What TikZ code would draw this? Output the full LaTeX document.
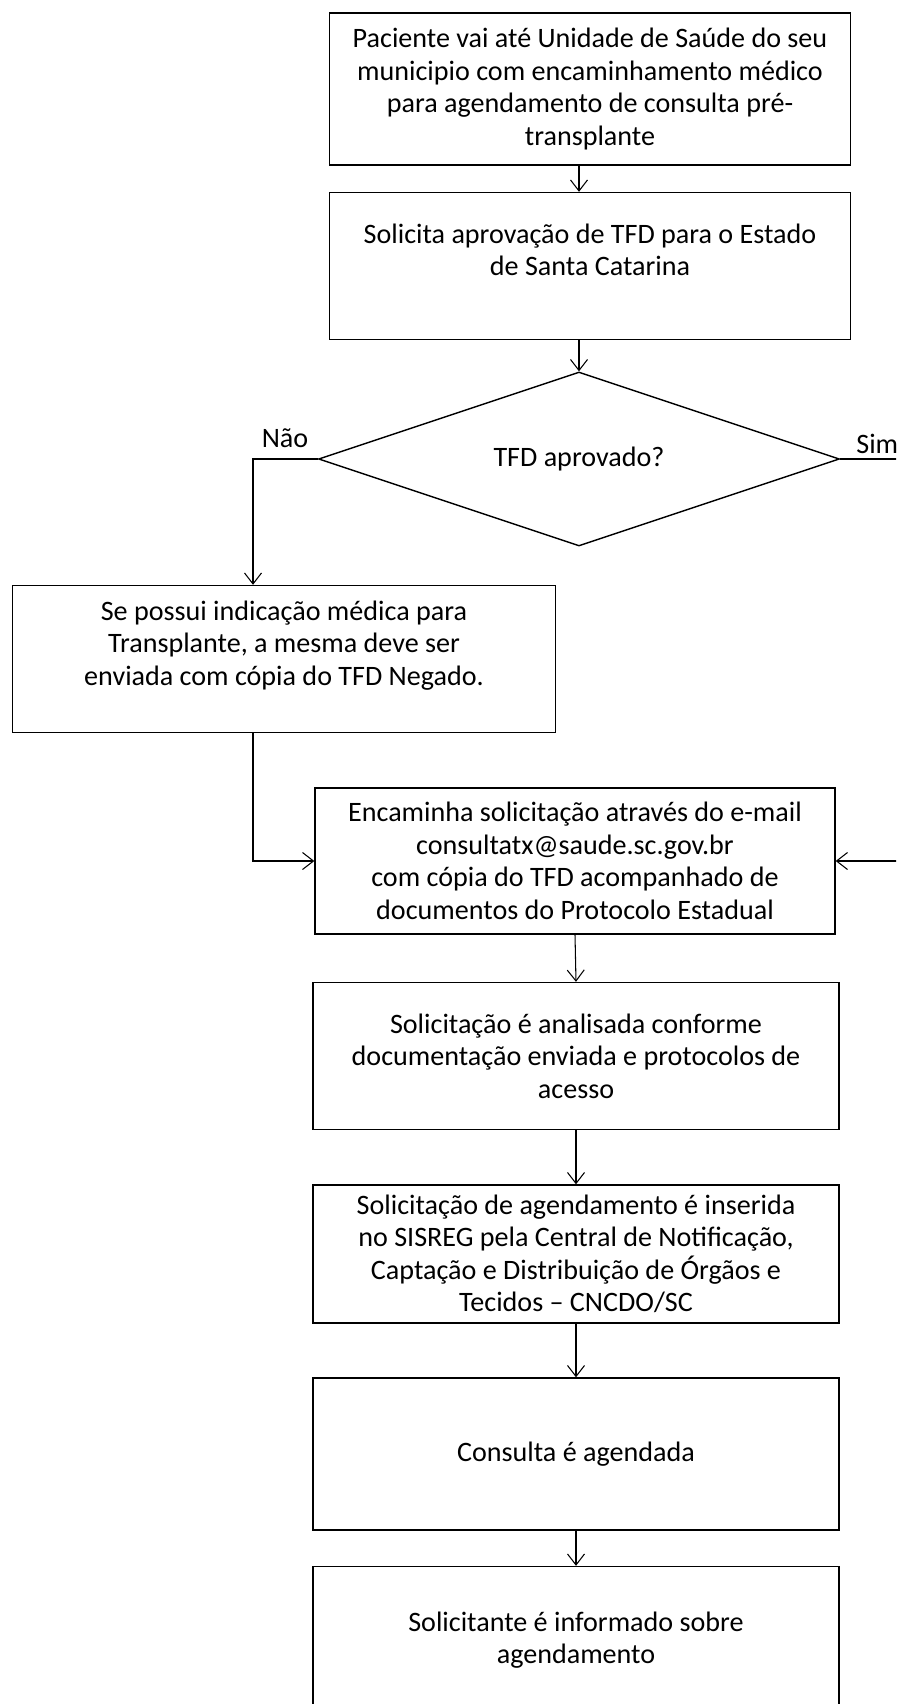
\documentclass[tikz,border=0pt]{standalone}
\usepackage{fontspec}
\setmainfont{Carlito}
\usetikzlibrary{shapes.geometric,arrows.meta}

\begin{document}
\begin{tikzpicture}[x=0.02cm,y=-0.02cm,
  >={Straight Barb[length=0.22cm,width=0.34cm]},
  caixa/.style={draw,line width=0.8pt,align=center,inner sep=0pt,
    font=\fontsize{16}{18.5}\selectfont},
  losango/.style={draw,line width=0.8pt,diamond,aspect=3,inner sep=0pt,
    font=\fontsize{16}{18.5}\selectfont},
  seta/.style={->,line width=0.6pt},
  rotulo/.style={inner sep=0pt,font=\fontsize{16}{18.5}\selectfont}]
  \useasboundingbox (0,0) rectangle (896,1704);
  \clip (0,0) rectangle (896,1704);
  % caixas
  \node[caixa,minimum width=10.42cm,minimum height=3.04cm] (b1) at (590,89)
    {Paciente vai até Unidade de Saúde do seu\\ municipio com encaminhamento médico\\ para agendamento de consulta pré-\\ transplante};
  \node[caixa,minimum width=10.42cm,minimum height=2.94cm] (b2) at (590,266)
    {Solicita aprovação de TFD para o Estado\\ de Santa Catarina\\ \mbox{}};
  \node[losango,minimum width=10.42cm,minimum height=3.48cm] (dia) at (579,459)
    {TFD aprovado?};
  \node[caixa,minimum width=10.86cm,minimum height=2.94cm] (b3) at (284,659)
    {Se possui indicação médica para\\ Transplante, a mesma deve ser\\ enviada com cópia do TFD Negado.\\ \mbox{}};
  \node[caixa,minimum width=10.4cm,minimum height=2.92cm] (b4) at (575,861)
    {Encaminha solicitação através do e-mail\\ consultatx@saude.sc.gov.br\\ com cópia do TFD acompanhado de\\ documentos do Protocolo Estadual};
  \node[caixa,minimum width=10.52cm,minimum height=2.94cm] (b5) at (576,1056)
    {Solicitação é analisada conforme\\ documentação enviada e protocolos de\\ acesso};
  \node[caixa,minimum width=10.52cm,minimum height=2.76cm] (b6) at (576,1254)
    {Solicitação de agendamento é inserida\\ no SISREG pela Central de Notificação,\\ Captação e Distribuição de Órgãos e\\ Tecidos – CNCDO/SC};
  \node[caixa,minimum width=10.52cm,minimum height=3.04cm] (b7) at (576,1454)
    {Consulta é agendada};
  \node[caixa,minimum width=10.52cm,minimum height=2.94cm] (b8) at (576,1640)
    {Solicitante é informado sobre\\ agendamento};
  % rotulos
  \node[rotulo] (nao) at (285,438) {Não};
  \node[rotulo,anchor=west] (sim) at (856,444) {Sim};
  % setas
  \coordinate (esq) at (253,0);
  \coordinate (dir) at (940,0);
  \draw[seta] (b1.south -| dia.north) -- (b2.north -| dia.north);
  \draw[seta] (b2.south -| dia.north) -- (dia.north);
  \draw[seta] (dia.west) -- (dia.west -| esq) -- (b3.north -| esq);
  \draw[seta] (b3.south -| esq) |- (b4.west);
  \draw[seta] (dia.east) -- (dia.east -| dir) |- (b4.east);
  \draw[seta] (b4.south) -- (b5.north);
  \draw[seta] (b5.south) -- (b6.north);
  \draw[seta] (b6.south) -- (b7.north);
  \draw[seta] (b7.south) -- (b8.north);
\end{tikzpicture}
\end{document}
